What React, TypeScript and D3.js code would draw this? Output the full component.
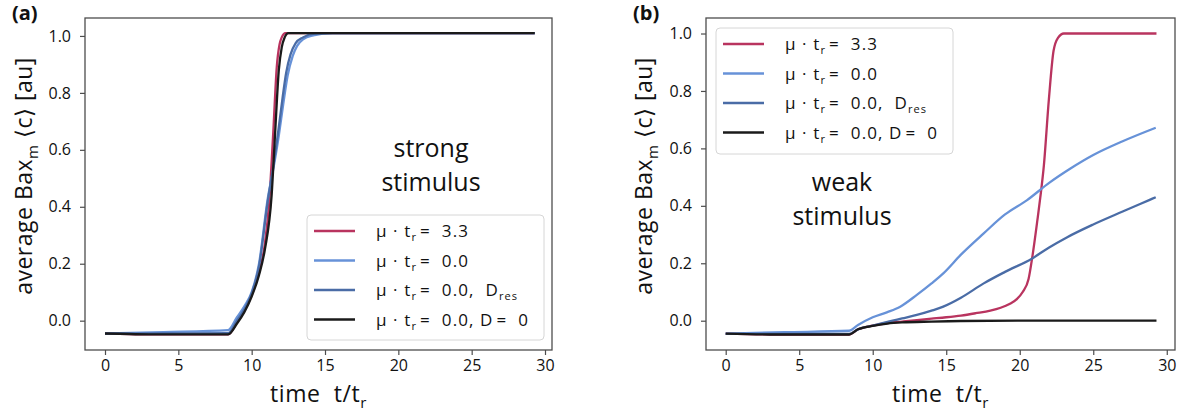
import React, { useEffect, useRef } from 'react';
import * as d3 from 'd3';

const FONT = "'Open Sans', 'Noto Sans', 'DejaVu Sans', sans-serif";

// colours of the four runs (legend order)
const colors = ['#b9345f', '#6792d8', '#4a6ca6', '#1a1a1a'];
const rateLabels = ['3.3', '0.0', '0.0', '0.0'];
const extraLabels = ['', '', 'Dres', 'D0'];

const xTicks = [0, 5, 10, 15, 20, 25, 30];
const yTicks = [0.0, 0.2, 0.4, 0.6, 0.8, 1.0];

// ---- panel (a): strong stimulus ----
const aRedT = [0, 1, 3, 8.4, 9, 9.5, 10, 10.5, 10.9, 11.2, 11.47, 11.71, 11.9, 12.05, 12.3, 15, 20, 25, 29.3];
const aRedV = [-0.045, -0.046, -0.048, -0.048, -0.005, 0.035, 0.09, 0.17, 0.27, 0.42, 0.66, 0.89, 0.97, 0.995, 1.01, 1.01, 1.01, 1.01, 1.01];
const aLightT = [0, 4, 8.4, 9, 9.5, 10, 10.5, 11.1, 11.5, 11.85, 12.15, 12.45, 12.8, 13.1, 13.5, 14.2, 15.5, 20, 25, 29.3];
const aLightV = [-0.045, -0.04, -0.033, 0.012, 0.05, 0.1, 0.2, 0.43, 0.54, 0.65, 0.76, 0.86, 0.93, 0.965, 0.988, 1.002, 1.01, 1.01, 1.01, 1.01];
const aMidT = [0, 4, 8.4, 9, 9.5, 10, 10.5, 11.1, 11.5, 11.8, 12.1, 12.35, 12.65, 13.0, 13.5, 14.3, 15.5, 20, 25, 29.3];
const aMidV = [-0.046, -0.045, -0.044, 0.0, 0.04, 0.095, 0.19, 0.42, 0.55, 0.66, 0.78, 0.87, 0.935, 0.975, 0.995, 1.008, 1.01, 1.01, 1.01, 1.01];
const aBlackT = [0, 1, 3, 8.4, 9, 9.5, 10, 10.5, 10.9, 11.36, 11.6, 11.85, 12.05, 12.25, 12.5, 15, 20, 25, 29.3];
const aBlackV = [-0.045, -0.046, -0.048, -0.048, -0.01, 0.03, 0.085, 0.16, 0.25, 0.44, 0.66, 0.88, 0.96, 0.995, 1.01, 1.01, 1.01, 1.01, 1.01];

// ---- panel (b): weak stimulus ----
const bRedT = [0, 3, 8.4, 9, 10, 11, 12, 13, 14, 15, 16, 17, 18, 18.7, 19.3, 19.8, 20.2, 20.6, 20.85, 21.2, 21.4, 21.64, 21.98, 22.3, 22.6, 23, 25, 29.3];
const bRedV = [-0.045, -0.048, -0.048, -0.03, -0.017, -0.008, -0.003, 0.002, 0.007, 0.012, 0.018, 0.026, 0.035, 0.045, 0.058, 0.075, 0.1, 0.145, 0.22, 0.35, 0.43, 0.54, 0.77, 0.94, 0.985, 1.0, 1.0, 1.0];
const bLightT = [0, 4, 8.4, 9, 10, 11, 11.87, 13, 14, 14.8, 16, 17.55, 19, 20.5, 22, 23.45, 25, 27, 29.25];
const bLightV = [-0.045, -0.04, -0.035, -0.015, 0.012, 0.03, 0.049, 0.09, 0.13, 0.165, 0.23, 0.304, 0.37, 0.42, 0.48, 0.53, 0.577, 0.625, 0.672];
const bMidT = [0, 4, 8.4, 9, 10, 11, 12, 13, 14, 14.8, 16, 17.55, 19, 20.85, 22, 23.2, 25, 27, 28.8, 29.25];
const bMidV = [-0.046, -0.046, -0.046, -0.03, -0.017, -0.004, 0.008, 0.02, 0.035, 0.049, 0.08, 0.13, 0.17, 0.217, 0.255, 0.29, 0.335, 0.38, 0.42, 0.43];
const bBlackT = [0, 3, 8.4, 9, 10, 11, 12, 14, 16, 20, 25, 29.3];
const bBlackV = [-0.045, -0.048, -0.048, -0.03, -0.018, -0.01, -0.006, -0.003, -0.001, 0.0, 0.0, 0.0];

const panels = [
  {
    label: '(a)',
    left: 85, right: 552, top: 18, bottom: 350,
    xDomain: [-1.364, 30.477], yDomain: [-0.103, 1.063],
    series: [[aRedT, aRedV], [aLightT, aLightV], [aMidT, aMidV], [aBlackT, aBlackV]],
    note: ['strong', 'stimulus'], noteX: 431, noteY: 157,
    legend: { x: 307, y: 215, w: 237, h: 125 },
    ylabX: 32,
  },
  {
    label: '(b)',
    left: 706, right: 1175, top: 18, bottom: 350,
    xDomain: [-1.34, 30.56], yDomain: [-0.102, 1.054],
    series: [[bRedT, bRedV], [bLightT, bLightV], [bMidT, bMidV], [bBlackT, bBlackV]],
    note: ['weak', 'stimulus'], noteX: 842, noteY: 191,
    legend: { x: 716, y: 28, w: 237, h: 126 },
    ylabX: 652,
  },
];

function LegendLabel({ i }: { i: number }) {
  const ex = extraLabels[i];
  return (
    <>
      <tspan>{'μ · t'}</tspan>
      <tspan fontSize={11} dy={4}>r</tspan>
      <tspan dy={-4} dx={3}>=</tspan>
      <tspan dx={11}>{rateLabels[i]}</tspan>
      {ex === 'Dres' && (
        <>
          <tspan>{',  D'}</tspan>
          <tspan fontSize={11} dy={4}>res</tspan>
        </>
      )}
      {ex === 'D0' && (
        <>
          <tspan>{', D'}</tspan>
          <tspan dx={3}>=</tspan>
          <tspan dx={11}>0</tspan>
        </>
      )}
    </>
  );
}

function Panel({ p }: { p: typeof panels[number] }) {
  const xAxisRef = useRef<SVGGElement>(null);
  const yAxisRef = useRef<SVGGElement>(null);
  const x = d3.scaleLinear().domain(p.xDomain).range([p.left, p.right]);
  const y = d3.scaleLinear().domain(p.yDomain).range([p.bottom, p.top]);

  useEffect(() => {
    const xa = d3.axisBottom(x).tickValues(xTicks).tickSize(5).tickPadding(5).tickFormat(d3.format('d'));
    const ya = d3.axisLeft(y).tickValues(yTicks).tickSize(5).tickPadding(9).tickFormat(d3.format('.1f'));
    for (const [ref, ax] of [[xAxisRef, xa], [yAxisRef, ya]] as const) {
      const g = d3.select(ref.current!);
      g.call(ax as any);
      g.select('.domain').remove();
      g.selectAll('line').attr('stroke', '#4d4d4d').attr('stroke-width', 1.2);
      g.selectAll('text').attr('fill', '#111').style('font-family', FONT).style('font-size', '16px');
    }
  }, []);

  const line = d3.line<number>().curve(d3.curveMonotoneX);
  const lg = p.legend;
  const cy = (p.top + p.bottom) / 2 - 8;

  return (
    <g>
      {p.series.map(([ts, vs], i) => (
        <path
          key={i}
          d={line.x((_, k) => x(ts[k])).y((v) => y(v))(vs as number[]) || ''}
          fill="none"
          stroke={colors[i]}
          strokeWidth={2.3}
        />
      ))}
      <rect x={p.left} y={p.top} width={p.right - p.left} height={p.bottom - p.top}
        fill="none" stroke="#4d4d4d" strokeWidth={1.3} />
      <g ref={xAxisRef} transform={`translate(0,${p.bottom})`} />
      <g ref={yAxisRef} transform={`translate(${p.left},0)`} />

      <text x={p.noteX} y={p.noteY} textAnchor="middle" fontSize={25} fontFamily={FONT} fill="#111">{p.note[0]}</text>
      <text x={p.noteX} y={p.noteY + 34} textAnchor="middle" fontSize={25} fontFamily={FONT} fill="#111">{p.note[1]}</text>

      <rect x={lg.x} y={lg.y} width={lg.w} height={lg.h} rx={4} fill="#fff" fillOpacity={0.85} stroke="#d6d6d6" />
      {colors.map((c, i) => {
        const ly = lg.y + 16 + i * 29.5;
        return (
          <g key={i}>
            <line x1={lg.x + 7} x2={lg.x + 48} y1={ly} y2={ly} stroke={c} strokeWidth={2.3} />
            <text x={lg.x + 69} y={ly + 6} fontSize={17} letterSpacing={1.1} fontFamily={FONT} fill="#111" style={{ whiteSpace: 'pre' }}>
              <LegendLabel i={i} />
            </text>
          </g>
        );
      })}

      <text x={(p.left + p.right) / 2} y={402} textAnchor="middle" fontSize={23} letterSpacing={0.6} fontFamily={FONT} fill="#111" style={{ whiteSpace: 'pre' }}>
        <tspan>{'time  t/t'}</tspan>
        <tspan fontSize={15} dy={6}>r</tspan>
      </text>
      <text transform={`translate(${p.ylabX},${cy}) rotate(-90)`} textAnchor="middle" fontSize={23} letterSpacing={0.5} fontFamily={FONT} fill="#111">
        <tspan>{'average Bax'}</tspan>
        <tspan fontSize={15} dy={6}>m</tspan>
        <tspan dy={-6}>{' ⟨c⟩ [au]'}</tspan>
      </text>
      <text x={p.left - 73} y={20} fontSize={20} fontWeight="bold" fontFamily={FONT} fill="#111">{p.label}</text>
    </g>
  );
}

export default function App() {
  return (
    <svg width={1184} height={414} style={{ position: 'absolute', left: 0, top: 0, background: '#fff' }}>
      {panels.map((p) => (
        <Panel key={p.label} p={p} />
      ))}
    </svg>
  );
}
